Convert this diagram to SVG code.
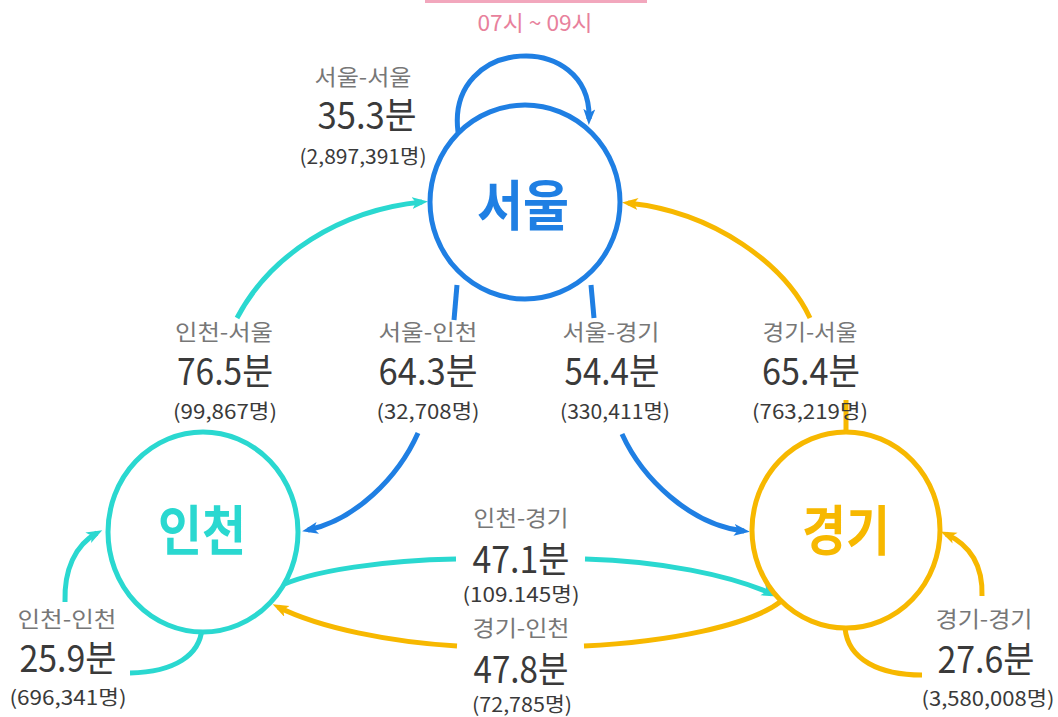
<svg xmlns="http://www.w3.org/2000/svg" width="1058" height="717" viewBox="0 0 1058 717">
<style>
text{font-family:"Noto Sans CJK KR","Noto Sans",sans-serif;text-anchor:middle}
.r{font-size:22px;fill:#777777}
.v{font-size:37px;fill:#3a3a3a;font-weight:400}
.n{font-size:20px;fill:#3a3a3a}
.c{fill:none;stroke-width:5;stroke-linecap:butt}
.b{stroke:#1f7fe3}
.cy{stroke:#2ad8d0}
.y{stroke:#f7b800}
.node{fill:#ffffff;stroke-width:5}
.nt{font-size:54px;font-weight:700}
</style>
<defs>
<marker id="ab" markerUnits="userSpaceOnUse" markerWidth="18" markerHeight="14" refX="10" refY="6" orient="auto"><path d="M0,0 L16,6 L0,12 L4,6 Z" fill="#1f7fe3"/></marker>
<marker id="ac" markerUnits="userSpaceOnUse" markerWidth="18" markerHeight="14" refX="10" refY="6" orient="auto"><path d="M0,0 L16,6 L0,12 L4,6 Z" fill="#2ad8d0"/></marker>
<marker id="ay" markerUnits="userSpaceOnUse" markerWidth="18" markerHeight="14" refX="10" refY="6" orient="auto"><path d="M0,0 L16,6 L0,12 L4,6 Z" fill="#f7b800"/></marker>
</defs>
<rect width="1058" height="717" fill="#ffffff"/>
<g id="header">
<rect x="425" y="0" width="222" height="3" fill="#f2a7bd"/>
<text x="535" y="31" font-size="22" fill="#e8819c" textLength="115" lengthAdjust="spacingAndGlyphs">07시 ~ 09시</text>
</g>
<g id="connectors">
<path class="c b" d="M458 132 C446 36, 592 30, 589 119" marker-end="url(#ab)"/>
<path class="c cy" d="M237 318 C270 255, 340 210, 422 202" marker-end="url(#ac)"/>
<path class="c y" d="M810 318 C785 265, 715 212, 628 203" marker-end="url(#ay)"/>
<path class="c y" d="M846 432 L846 400"/>
<path class="c b" d="M457 285 L454 320"/>
<path class="c b" d="M418 433 C398 478, 355 520, 308 530" marker-end="url(#ab)"/>
<path class="c b" d="M591 285 L594 318"/>
<path class="c b" d="M622 434 C642 478, 690 525, 744 531" marker-end="url(#ab)"/>
<path class="c cy" d="M276 588 C310 570, 390 560, 456 559"/>
<path class="c cy" d="M585 559 C660 561, 730 575, 772 594" marker-end="url(#ac)"/>
<path class="c y" d="M780 602 C750 625, 670 642, 584 646"/>
<path class="c y" d="M457 646 C390 642, 320 628, 278 607" marker-end="url(#ay)"/>
<path class="c cy" d="M202 628 C200 655, 175 672, 130 673"/>
<path class="c cy" d="M65 602 C64 570, 75 545, 97 533" marker-end="url(#ac)"/>
<path class="c y" d="M845 628 C848 660, 880 675, 922 675"/>
<path class="c y" d="M982 596 C983 565, 970 545, 946 534" marker-end="url(#ay)"/>
</g>
<g id="seoul">
<ellipse class="node" cx="525" cy="202" rx="95" ry="97" stroke="#1f7fe3"/>
<text class="nt" x="523" y="226" fill="#1f7fe3" textLength="92" lengthAdjust="spacingAndGlyphs">서울</text>
</g>
<g id="incheon">
<ellipse class="node" cx="203" cy="532" rx="95" ry="100" stroke="#2ad8d0"/>
<text class="nt" x="202" y="551" fill="#2ad8d0" textLength="88" lengthAdjust="spacingAndGlyphs">인천</text>
</g>
<g id="gyeonggi">
<ellipse class="node" cx="846" cy="530" rx="94" ry="98" stroke="#f7b800"/>
<text class="nt" x="846" y="551" fill="#f7b800" textLength="88" lengthAdjust="spacingAndGlyphs">경기</text>
</g>
<g id="label-seoul-seoul">
<text class="r" x="363" y="85" textLength="97" lengthAdjust="spacingAndGlyphs">서울-서울</text>
<text class="v" x="367" y="129" textLength="99" lengthAdjust="spacingAndGlyphs">35.3분</text>
<text class="n" x="363" y="164" textLength="127" lengthAdjust="spacingAndGlyphs">(2,897,391명)</text>
</g>
<g id="label-incheon-seoul">
<text class="r" x="224" y="340" textLength="98" lengthAdjust="spacingAndGlyphs">인천-서울</text>
<text class="v" x="225" y="385" textLength="96" lengthAdjust="spacingAndGlyphs">76.5분</text>
<text class="n" x="225" y="419" textLength="104" lengthAdjust="spacingAndGlyphs">(99,867명)</text>
</g>
<g id="label-seoul-incheon">
<text class="r" x="428" y="340" textLength="99" lengthAdjust="spacingAndGlyphs">서울-인천</text>
<text class="v" x="428" y="385" textLength="99" lengthAdjust="spacingAndGlyphs">64.3분</text>
<text class="n" x="428" y="419" textLength="103" lengthAdjust="spacingAndGlyphs">(32,708명)</text>
</g>
<g id="label-seoul-gyeonggi">
<text class="r" x="611" y="340" textLength="97" lengthAdjust="spacingAndGlyphs">서울-경기</text>
<text class="v" x="612" y="385" textLength="95" lengthAdjust="spacingAndGlyphs">54.4분</text>
<text class="n" x="615" y="419" textLength="110" lengthAdjust="spacingAndGlyphs">(330,411명)</text>
</g>
<g id="label-gyeonggi-seoul">
<text class="r" x="810" y="340" textLength="95" lengthAdjust="spacingAndGlyphs">경기-서울</text>
<text class="v" x="811" y="385" textLength="98" lengthAdjust="spacingAndGlyphs">65.4분</text>
<text class="n" x="810" y="419" textLength="116" lengthAdjust="spacingAndGlyphs">(763,219명)</text>
</g>
<g id="label-incheon-gyeonggi">
<text class="r" x="521" y="526" textLength="95" lengthAdjust="spacingAndGlyphs">인천-경기</text>
<text class="v" x="521" y="573" textLength="97" lengthAdjust="spacingAndGlyphs">47.1분</text>
<text class="n" x="521" y="602" textLength="117" lengthAdjust="spacingAndGlyphs">(109.145명)</text>
</g>
<g id="label-gyeonggi-incheon">
<text class="r" x="521" y="636" textLength="97" lengthAdjust="spacingAndGlyphs">경기-인천</text>
<text class="v" x="521" y="683" textLength="95" lengthAdjust="spacingAndGlyphs">47.8분</text>
<text class="n" x="522" y="712" textLength="100" lengthAdjust="spacingAndGlyphs">(72,785명)</text>
</g>
<g id="label-incheon-incheon">
<text class="r" x="67" y="627" textLength="99" lengthAdjust="spacingAndGlyphs">인천-인천</text>
<text class="v" x="68" y="672" textLength="97" lengthAdjust="spacingAndGlyphs">25.9분</text>
<text class="n" x="68" y="705" textLength="117" lengthAdjust="spacingAndGlyphs">(696,341명)</text>
</g>
<g id="label-gyeonggi-gyeonggi">
<text class="r" x="984" y="627" textLength="97" lengthAdjust="spacingAndGlyphs">경기-경기</text>
<text class="v" x="986" y="673" textLength="97" lengthAdjust="spacingAndGlyphs">27.6분</text>
<text class="n" x="988" y="706" textLength="133" lengthAdjust="spacingAndGlyphs">(3,580,008명)</text>
</g>
</svg>
